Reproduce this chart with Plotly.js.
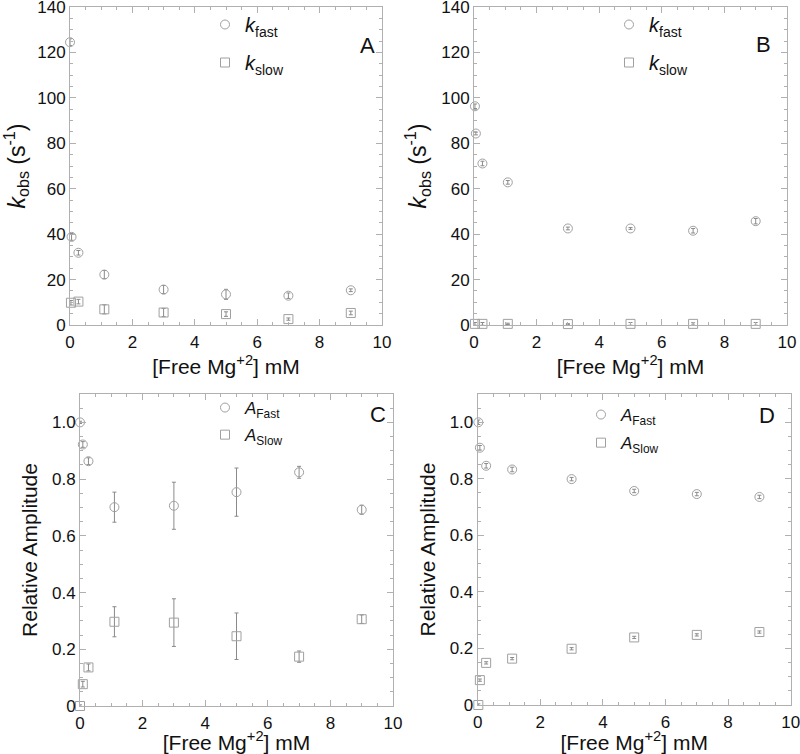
<!DOCTYPE html>
<html>
<head>
<meta charset="utf-8">
<script src="https://cdn.plot.ly/plotly-3.0.1.min.js"></script>
<style>html,body{margin:0;padding:0;background:#fff;}#chart{width:800px;height:754px;}</style>
</head>
<body>
<div id="chart"></div>
<script>
// ---- Data ----
// Panel A
const aFastX = [0, 0.05, 0.27, 1.1, 3, 5, 7, 9];
const aFastY = [124.5, 38.8, 31.8, 22.2, 15.6, 13.5, 12.9, 15.3];
const aFastErr = [1.5, 1.5, 1.0, 1.8, 1.8, 2.2, 1.2, 0.6];
const aSlowX = [0.03, 0.27, 1.1, 3, 5, 7, 9];
const aSlowY = [9.8, 10.3, 6.9, 5.5, 4.8, 2.6, 5.3];
const aSlowErr = [1.0, 1.0, 2.0, 1.8, 1.0, 0.5, 0.8];
// Panel B
const bFastX = [0.03, 0.06, 0.27, 1.08, 3, 5, 7, 9];
const bFastY = [96.3, 84.3, 71.1, 62.8, 42.5, 42.5, 41.5, 45.7];
const bFastErr = [1.0, 0.6, 1.0, 0.8, 0.6, 0.4, 1.0, 1.2];
const bSlowX = [0.03, 0.27, 1.08, 3, 5, 7, 9];
const bSlowY = [0.5, 0.5, 0.5, 0.4, 0.5, 0.5, 0.5];
const bSlowErr = [0.6, 0.6, 0.3, 0.2, 0.6, 0.5, 0.6];
// Panel C
const cFastX = [0, 0.09, 0.27, 1.1, 3, 5, 7, 9];
const cFastY = [1.0, 0.922, 0.863, 0.701, 0.706, 0.754, 0.824, 0.692];
const cFastErr = [0.004, 0.01, 0.012, 0.053, 0.083, 0.085, 0.021, 0.016];
const cSlowX = [0, 0.09, 0.27, 1.1, 3, 5, 7, 9];
const cSlowY = [0.0, 0.077, 0.136, 0.297, 0.294, 0.246, 0.174, 0.306];
const cSlowErr = [0.004, 0.01, 0.012, 0.053, 0.084, 0.082, 0.02, 0.015];
// Panel D
const dFastX = [0.02, 0.07, 0.27, 1.1, 3, 5, 7, 9];
const dFastY = [1.0, 0.91, 0.846, 0.833, 0.799, 0.757, 0.746, 0.736];
const dFastErr = [0.008, 0.008, 0.008, 0.008, 0.006, 0.006, 0.006, 0.006];
const dSlowX = [0.02, 0.07, 0.27, 1.1, 3, 5, 7, 9];
const dSlowY = [0.0, 0.088, 0.149, 0.164, 0.199, 0.239, 0.248, 0.258];
const dSlowErr = [0.004, 0.004, 0.004, 0.004, 0.004, 0.004, 0.004, 0.004];

const xTickVals = [0, 2, 4, 6, 8, 10];
const kTickVals = [0, 20, 40, 60, 80, 100, 120, 140];
const ampTickVals = [0, 0.2, 0.4, 0.6, 0.8, 1.0];
const ampTickText = ["0", "0.2", "0.4", "0.6", "0.8", "1.0"];

const kNames = ["<i>k</i><sub>fast</sub>", "<i>k</i><sub>slow</sub>"];
const ampNames = ["<i>A</i><sub>Fast</sub>", "<i>A</i><sub>Slow</sub>"];
const panelLabels = ["A", "B", "C", "D"];
const xTitle = "[Free Mg<sup>+2</sup>] mM";
const kTitle = "<i>k</i><sub>obs</sub> (s<sup>-1</sup>)";
const ampTitle = "Relative Amplitude";

// ---- Styling ----
const MC = "#a0a0a0";
const FRAME = "#b0b0b0";
const TXT = "#111111";
const FONT = "Liberation Sans, Arial, sans-serif";

function tr(x, y, err, name, symbol, xa, ya, leg, grp) {
  return {
    type: "scatter", mode: "markers", x: x, y: y, name: name,
    xaxis: xa, yaxis: ya, legend: leg, legendgroup: grp, cliponaxis: false,
    marker: {symbol: symbol, size: 9, color: MC, line: {color: MC, width: 1}},
    error_y: {type: "data", array: err, visible: true, color: "#8a8a8a", thickness: 1, width: 2}
  };
}

const data = [
  tr(aFastX, aFastY, aFastErr, kNames[0], "circle-open", "x", "y", "legend", "a1"),
  tr(aSlowX, aSlowY, aSlowErr, kNames[1], "square-open", "x", "y", "legend", "a2"),
  tr(bFastX, bFastY, bFastErr, kNames[0], "circle-open", "x2", "y2", "legend2", "b1"),
  tr(bSlowX, bSlowY, bSlowErr, kNames[1], "square-open", "x2", "y2", "legend2", "b2"),
  tr(cFastX, cFastY, cFastErr, ampNames[0], "circle-open", "x3", "y3", "legend3", "c1"),
  tr(cSlowX, cSlowY, cSlowErr, ampNames[1], "square-open", "x3", "y3", "legend3", "c2"),
  tr(dFastX, dFastY, dFastErr, ampNames[0], "circle-open", "x4", "y4", "legend4", "d1"),
  tr(dSlowX, dSlowY, dSlowErr, ampNames[1], "square-open", "x4", "y4", "legend4", "d2")
];

function xax(domain, anchor, standoff) {
  return {
    domain: domain, anchor: anchor, range: [0, 10], tickvals: xTickVals,
    ticks: "inside", ticklen: 6, tickcolor: FRAME, mirror: "allticks",
    showline: true, linecolor: FRAME, linewidth: 1, showgrid: false, zeroline: false,
    minor: {dtick: 0.5, ticks: "inside", ticklen: 3, tickcolor: FRAME, showgrid: false},
    tickfont: {family: FONT, size: 17, color: TXT}, ticklabeloverflow: "allow", ticklabelstandoff: 2,
    title: {text: xTitle, font: {family: FONT, size: 21, color: TXT}, standoff: standoff}
  };
}
function yax(domain, anchor, isK) {
  const o = {
    domain: domain, anchor: anchor,
    ticks: "inside", ticklen: 6, tickcolor: FRAME, mirror: "allticks",
    showline: true, linecolor: FRAME, linewidth: 1, showgrid: false, zeroline: false,
    tickfont: {family: FONT, size: 17, color: TXT}, ticklabeloverflow: "allow",
    title: {font: {family: FONT, size: isK ? 23 : 21, color: TXT}, standoff: 8}
  };
  if (isK) {
    o.range = [0, 140]; o.tickvals = kTickVals;
    o.minor = {dtick: 5, ticks: "inside", ticklen: 3, tickcolor: FRAME, showgrid: false};
    o.title.text = kTitle;
  } else {
    o.range = [0, 1.1]; o.tickvals = ampTickVals; o.ticktext = ampTickText;
    o.minor = {dtick: 0.05, ticks: "inside", ticklen: 3, tickcolor: FRAME, showgrid: false};
    o.title.text = ampTitle;
  }
  return o;
}

function leg(x, y, size, gap) {
  return {x: x, y: y, xanchor: "left", yanchor: "top", bgcolor: "rgba(0,0,0,0)",
    font: {family: FONT, size: size, color: TXT}, itemwidth: 30, tracegroupgap: gap};
}

const W = 800, H = 754;
const layout = {
  width: W, height: H, margin: {l: 0, r: 0, t: 0, b: 0},
  paper_bgcolor: "#ffffff", plot_bgcolor: "#ffffff", showlegend: true,
  xaxis: xax([70 / W, 382 / W], "y", 0),
  yaxis: yax([1 - 325 / H, 1 - 7 / H], "x", true),
  xaxis2: xax([474 / W, 787 / W], "y2", 0),
  yaxis2: yax([1 - 325 / H, 1 - 7 / H], "x2", true),
  xaxis3: xax([80 / W, 393 / W], "y3", 3),
  yaxis3: yax([1 - 706 / H, 1 - 394 / H], "x3", false),
  xaxis4: xax([477.7 / W, 790.7 / W], "y4", 3),
  yaxis4: yax([1 - 705 / H, 1 - 394 / H], "x4", false),
  legend: leg(205 / W, 1 - 5 / H, 20, 9),
  legend2: leg(609 / W, 1 - 5 / H, 20, 9),
  legend3: leg(205 / W, 1 - 390 / H, 17, 2),
  legend4: leg(581 / W, 1 - 397 / H, 17, 3),
  annotations: [
    {text: panelLabels[0], xref: "paper", yref: "paper", x: 367 / W, y: 1 - 31 / H, showarrow: false, font: {family: FONT, size: 22, color: TXT}},
    {text: panelLabels[1], xref: "paper", yref: "paper", x: 773 / W, y: 1 - 30 / H, showarrow: false, font: {family: FONT, size: 22, color: TXT}},
    {text: panelLabels[2], xref: "paper", yref: "paper", x: 378 / W, y: 1 - 414 / H, showarrow: false, font: {family: FONT, size: 22, color: TXT}},
    {text: panelLabels[3], xref: "paper", yref: "paper", x: 777 / W, y: 1 - 415 / H, showarrow: false, font: {family: FONT, size: 22, color: TXT}}
  ]
};

Plotly.newPlot("chart", data, layout, {staticPlot: true, displayModeBar: false});
</script>
</body>
</html>
